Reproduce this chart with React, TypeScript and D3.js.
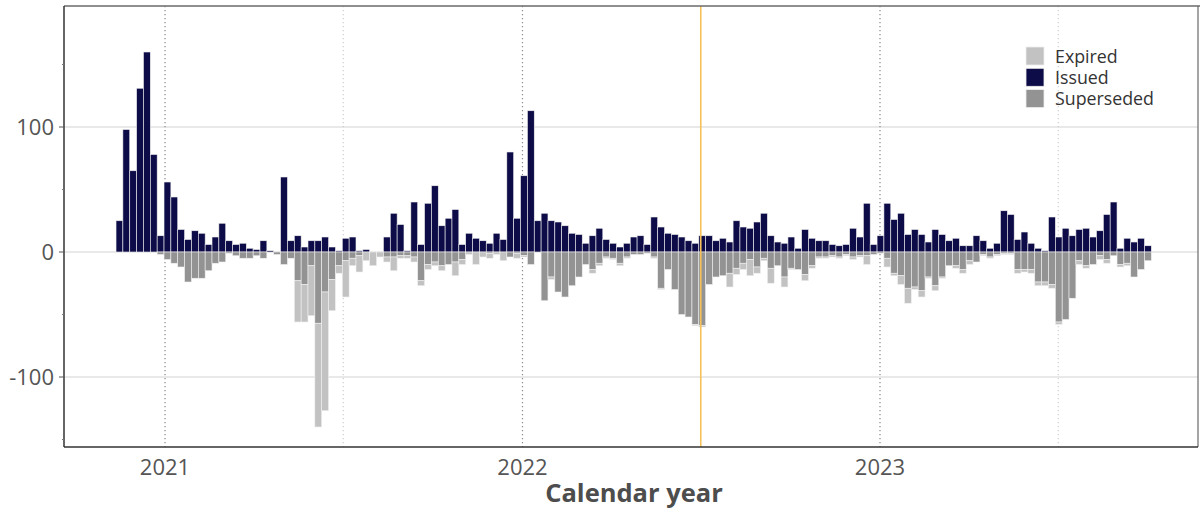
import React from "react";
import * as d3 from "d3";

const FIRST_WEEK = new Date(2020, 10, 12);
const WEEK_COUNT = 151;

const issued = [
  25, 98, 65, 131, 160, 78, 13, 56, 44, 18,
  10, 17, 15, 6, 12, 23, 9, 6, 7, 3,
  2, 9, 1, 0, 60, 9, 13, 4, 9, 9,
  12, 4, 1, 11, 12, 1, 2, 0, 0, 12,
  31, 22, 1, 40, 6, 39, 53, 21, 27, 34,
  6, 15, 11, 9, 7, 15, 10, 80, 27, 61,
  113, 25, 31, 25, 24, 21, 15, 14, 7, 13,
  19, 10, 7, 4, 7, 12, 13, 6, 28, 20,
  15, 14, 12, 9, 7, 13, 13, 9, 11, 8,
  25, 20, 19, 24, 31, 13, 8, 7, 12, 3,
  18, 11, 9, 9, 6, 5, 6, 19, 12, 39,
  6, 13, 39, 26, 31, 14, 18, 14, 8, 18,
  14, 9, 11, 5, 5, 13, 9, 3, 7, 33,
  30, 10, 16, 7, 3, 1, 28, 12, 19, 13,
  18, 19, 12, 17, 30, 40, 3, 11, 8, 11,
  5,
];

const superseded = [
  0, 0, 0, 0, 0, 0, 2, 6, 9, 12,
  24, 21, 21, 15, 9, 8, 1, 3, 5, 5,
  3, 5, 0, 2, 10, 5, 23, 26, 11, 57,
  32, 22, 11, 7, 5, 3, 0, 0, 0, 4,
  4, 3, 3, 4, 23, 10, 8, 11, 10, 8,
  6, 0, 0, 0, 1, 0, 0, 4, 1, 3,
  10, 0, 39, 20, 32, 36, 27, 20, 10, 14,
  9, 4, 5, 9, 4, 2, 2, 1, 4, 29,
  14, 30, 50, 52, 58, 59, 26, 20, 19, 17,
  13, 9, 6, 12, 5, 13, 11, 20, 13, 14,
  18, 11, 4, 4, 3, 4, 2, 4, 3, 3,
  2, 1, 5, 17, 19, 29, 28, 31, 20, 27,
  20, 11, 11, 14, 7, 8, 2, 4, 2, 1,
  1, 14, 14, 14, 24, 24, 26, 56, 54, 37,
  7, 11, 10, 3, 6, 3, 10, 9, 20, 14,
  7,
];

const expired = [
  0, 0, 0, 0, 0, 0, 0, 0, 0, 0,
  0, 0, 0, 0, 0, 0, 0, 0, 0, 0,
  0, 0, 0, 0, 0, 0, 33, 30, 40, 83,
  95, 25, 6, 29, 6, 13, 7, 11, 4, 4,
  11, 2, 2, 4, 4, 4, 3, 4, 0, 11,
  4, 2, 10, 4, 4, 2, 7, 0, 4, 1,
  0, 0, 0, 2, 0, 0, 0, 0, 0, 3,
  2, 1, 1, 2, 1, 0, 0, 0, 1, 1,
  0, 0, 0, 0, 1, 1, 0, 0, 0, 11,
  5, 5, 13, 5, 2, 12, 0, 8, 1, 0,
  5, 2, 1, 1, 1, 1, 1, 2, 1, 7,
  0, 0, 7, 2, 7, 12, 2, 5, 1, 4,
  1, 0, 2, 3, 3, 0, 1, 1, 1, 1,
  1, 3, 2, 3, 3, 3, 3, 2, 0, 0,
  3, 2, 0, 3, 3, 0, 2, 2, 0, 0,
  0,
];

const yMajorTicks = [-100, 0, 100];
const yMinorTicks = [-150, -50, 50, 150];
const yearTicks = [new Date(2021, 0, 1), new Date(2022, 0, 1), new Date(2023, 0, 1)];
const midYearTicks = [new Date(2021, 6, 2), new Date(2023, 6, 2)];
const highlightDate = new Date(2022, 6, 2);
const legendItems = ["Expired", "Issued", "Superseded"];

const COLORS: Record<string, string> = {
  Expired: "#c2c2c2",
  Issued: "#0d0c48",
  Superseded: "#939393",
};

const W = 1200;
const H = 510;
const L = 64;
const R = 1198;
const T = 6;
const B = 447;

export default function App() {
  const weeks = d3.range(WEEK_COUNT).map((i) => d3.timeWeek.offset(FIRST_WEEK, i));

  const x = d3
    .scaleTime()
    .domain([new Date(2021, 0, 1), new Date(2023, 0, 1)])
    .range([165, 880]);
  const y = d3.scaleLinear().domain([-156, 196.8]).range([B, T]);

  const font = "'Open Sans', 'Noto Sans', sans-serif";

  const bars: React.ReactNode[] = [];
  weeks.forEach((d, i) => {
    const x0 = x(d);
    const x1 = x(d3.timeDay.offset(d, 7));
    const w = x1 - x0;
    const iss = issued[i];
    const sup = superseded[i];
    const exp = expired[i];
    if (iss > 0) {
      bars.push(
        <rect key={"i" + i} x={x0} width={w} y={y(iss)} height={y(0) - y(iss)}
          fill={COLORS.Issued} stroke="#f0f0f0" strokeWidth={0.6} />
      );
    }
    if (sup > 0) {
      bars.push(
        <rect key={"s" + i} x={x0} width={w} y={y(0)} height={y(-sup) - y(0)}
          fill={COLORS.Superseded} stroke="#f0f0f0" strokeWidth={0.6} />
      );
    }
    if (exp > 0) {
      bars.push(
        <rect key={"e" + i} x={x0} width={w} y={y(-sup)} height={y(-sup - exp) - y(-sup)}
          fill={COLORS.Expired} stroke="#f0f0f0" strokeWidth={0.6} />
      );
    }
  });

  return (
    <svg width={W} height={H} style={{ position: "absolute", left: 0, top: 0, background: "#fff" }}
      fontFamily={font}>
      {yMajorTicks.map((t) => (
        <line key={"g" + t} x1={L} x2={R} y1={y(t)} y2={y(t)} stroke="#d4d4d4" strokeWidth={1.2} />
      ))}
      {yearTicks.map((d, i) => (
        <line key={"yl" + i} x1={x(d)} x2={x(d)} y1={T} y2={B} stroke="#8a8a8a"
          strokeWidth={1.2} strokeDasharray="1.2,2.8" />
      ))}
      {midYearTicks.map((d, i) => (
        <line key={"ml" + i} x1={x(d)} x2={x(d)} y1={T} y2={B} stroke="#cfcfcf"
          strokeWidth={1.2} strokeDasharray="1.2,2.8" />
      ))}
      {bars}
      <line x1={x(highlightDate)} x2={x(highlightDate)} y1={T} y2={B} stroke="#f6c258" strokeWidth={1.6} />
      <line x1={L} x2={W} y1={T} y2={T} stroke="#6a6a6a" strokeWidth={1.5} />
      <line x1={R} x2={R} y1={T} y2={B} stroke="#6a6a6a" strokeWidth={1.2} />
      <line x1={L} x2={R} y1={B} y2={B} stroke="#333" strokeWidth={1.5} />
      <line x1={L} x2={L} y1={T} y2={B} stroke="#333" strokeWidth={1.5} />
      {yMajorTicks.map((t) => (
        <g key={"yt" + t}>
          <line x1={L - 5} x2={L} y1={y(t)} y2={y(t)} stroke="#555" strokeWidth={1} />
          <text x={L - 10} y={y(t)} dy="0.35em" textAnchor="end" fontSize={22} fill="#555">
            {t}
          </text>
        </g>
      ))}
      {yMinorTicks.map((t) => (
        <line key={"ym" + t} x1={L - 2} x2={L} y1={y(t)} y2={y(t)} stroke="#777" strokeWidth={1} />
      ))}
      {yearTicks.map((d, i) => (
        <text key={"xt" + i} x={x(d)} y={475} textAnchor="middle" fontSize={22} fill="#555">
          {d3.timeFormat("%Y")(d)}
        </text>
      ))}
      <text x={634} y={502} textAnchor="middle" fontSize={25.5} fontWeight="bold" fill="#4d4d4d">
        Calendar year
      </text>
      {legendItems.map((k, i) => (
        <g key={"lg" + k} transform={`translate(1026, ${47 + i * 21.3})`}>
          <rect x={0} y={0} width={18} height={18} fill={COLORS[k]} stroke="#eee" strokeWidth={0.8} />
          <text x={29} y={15.5} fontSize={17.8} fill="#333">
            {k}
          </text>
        </g>
      ))}
    </svg>
  );
}
